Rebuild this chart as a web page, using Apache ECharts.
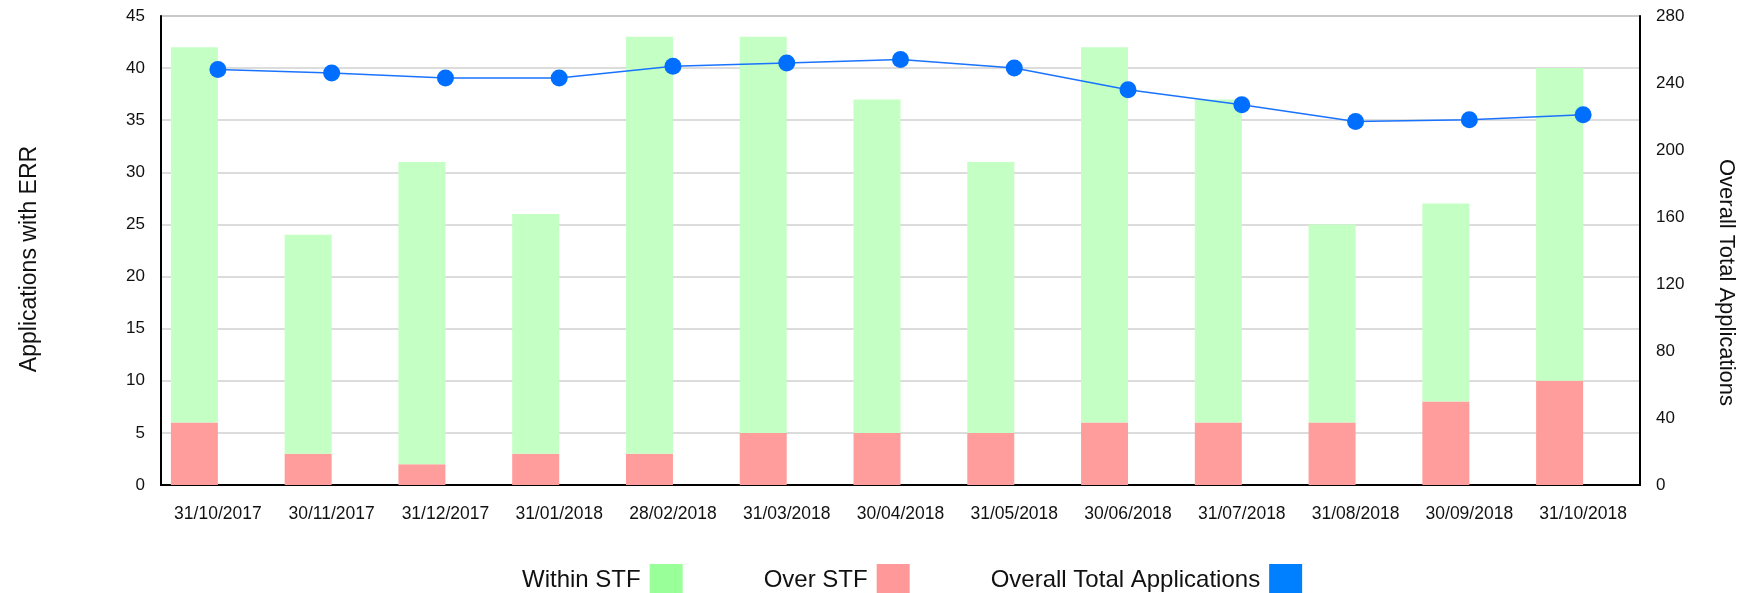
<!DOCTYPE html>
<html>
<head>
<meta charset="utf-8">
<script src="https://cdn.jsdelivr.net/npm/echarts@6/dist/echarts.min.js"></script>
<style>
html,body{margin:0;padding:0;background:#fff;}
#chart{width:1751px;height:593px;}
</style>
</head>
<body>
<div id="chart"></div>
<script>
const categories = ['31/10/2017','30/11/2017','31/12/2017','31/01/2018','28/02/2018','31/03/2018','30/04/2018','31/05/2018','30/06/2018','31/07/2018','31/08/2018','30/09/2018','31/10/2018'];
const overSTF = [6, 3, 2, 3, 3, 5, 5, 5, 6, 6, 6, 8, 10];
const withinSTF = [36, 21, 29, 23, 40, 38, 32, 26, 36, 31, 19, 19, 30];
const overallTotal = [248, 246, 243, 243, 250, 252, 254, 249, 236, 227, 217, 218, 221];
const leftTicks = { min: 0, max: 45, interval: 5 };
const rightTicks = { min: 0, max: 280, interval: 40 };

const FONT = '"Liberation Sans", Arial, sans-serif';
const chart = echarts.init(document.getElementById('chart'), null, { renderer: 'canvas' });
chart.setOption({
  animation: false,
  textStyle: { fontFamily: FONT },
  grid: { left: 161, right: 111, top: 16, bottom: 108, outerBoundsMode: 'none', containLabel: false,
          show: true, borderColor: '#9a9a9a', borderWidth: 1.5, backgroundColor: 'transparent' },
  legend: {
    left: 517, top: 559,
    align: 'right',
    itemWidth: 33, itemHeight: 33, itemGap: 81,
    icon: 'rect',
    textStyle: { fontSize: 24, color: '#111', fontFamily: FONT, padding: [0, 4, 0, 0] },
    data: [
      { name: 'Within STF', itemStyle: { color: '#99FF99' } },
      { name: 'Over STF', itemStyle: { color: '#FF9999' } },
      { name: 'Overall Total Applications', itemStyle: { color: '#0080FF' } }
    ]
  },
  xAxis: {
    type: 'category',
    data: categories,
    axisLine: { lineStyle: { color: '#000', width: 2 } },
    axisTick: { show: false },
    axisLabel: { fontSize: 17.5, color: '#111', margin: 20, interval: 0, fontFamily: FONT }
  },
  yAxis: [
    {
      type: 'value', min: leftTicks.min, max: leftTicks.max, interval: leftTicks.interval,
      name: 'Applications with ERR', nameLocation: 'middle', nameRotate: 90, nameGap: 120,
      nameTextStyle: { fontSize: 23, color: '#111', fontFamily: FONT, padding: [0, 17, 0, 0] },
      axisLine: { show: true, lineStyle: { color: '#000', width: 2 } },
      axisTick: { show: false },
      axisLabel: { fontSize: 17, color: '#111', margin: 16, fontFamily: FONT },
      splitLine: { lineStyle: { color: '#d0d0d0', width: 1.5 } }
    },
    {
      type: 'value', min: rightTicks.min, max: rightTicks.max, interval: rightTicks.interval,
      position: 'right',
      name: 'Overall Total Applications', nameLocation: 'middle', nameRotate: -90, nameGap: 75,
      nameTextStyle: { fontSize: 22, color: '#111', fontFamily: FONT, padding: [0, 0, 0, 64] },
      axisLine: { show: true, lineStyle: { color: '#000', width: 2 } },
      axisTick: { show: false },
      axisLabel: { fontSize: 17, color: '#111', margin: 16, fontFamily: FONT },
      splitLine: { show: false }
    }
  ],
  series: [
    {
      name: 'Over STF', type: 'bar', stack: 'err', barWidth: 47, barGap: '0%',
      itemStyle: { color: '#FF9D9D' }, data: overSTF
    },
    {
      name: 'Within STF', type: 'bar', stack: 'err', barWidth: 47, barGap: '0%',
      itemStyle: { color: '#C4FFC4' }, data: withinSTF
    },
    {
      name: 'spacer', type: 'bar', stack: 'spacer', barWidth: 47, barGap: '0%',
      itemStyle: { color: 'transparent' }, silent: true,
      data: categories.map(() => 0)
    },
    {
      name: 'Overall Total Applications', type: 'line', yAxisIndex: 1,
      symbol: 'circle', symbolSize: 17, z: 5,
      itemStyle: { color: '#006EFF' },
      lineStyle: { color: '#1a73ff', width: 1.5 },
      data: overallTotal
    }
  ]
});
</script>
</body>
</html>
